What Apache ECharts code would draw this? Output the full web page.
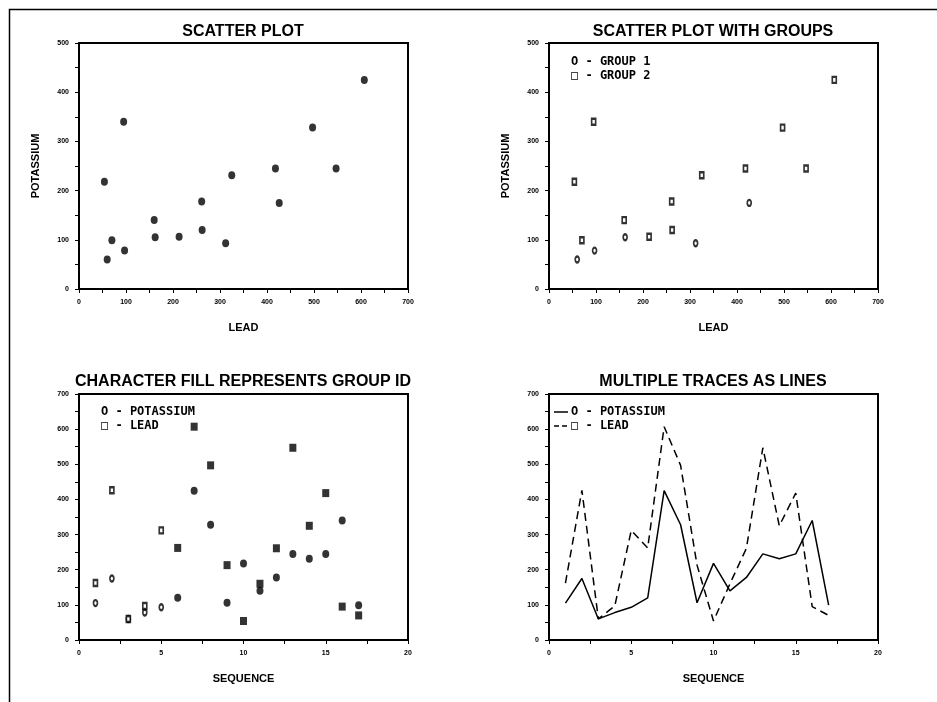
<!DOCTYPE html>
<html>
<head>
<meta charset="utf-8">
<script src="https://cdn.jsdelivr.net/npm/echarts@6/dist/echarts.min.js"></script>
<style>
  html, body { margin: 0; padding: 0; background: #fff; }
  #main { width: 937px; height: 702px; }
</style>
</head>
<body>
<div id="main"></div>
<script>
// data: 17 observations
const sequence  = [1, 2, 3, 4, 5, 6, 7, 8, 9, 10, 11, 12, 13, 14, 15, 16, 17];
const potassium = [105, 175, 60, 78, 93, 120, 425, 328, 106, 218, 140, 178, 245, 231, 245, 340, 99];
const lead      = [162, 426, 60, 97, 312, 262, 607, 497, 213, 54, 160, 261, 547, 325, 418, 95, 70];
const group     = [1, 1, 1, 1, 1, 2, 2, 2, 2, 2, 2, 2, 2, 2, 2, 2, 2];

// axis ranges
const leadAxis = { min: 0, max: 700, interval: 100 };
const kAxis    = { min: 0, max: 500, interval: 100 };
const seqAxis  = { min: 0, max: 20, interval: 5 };
const valAxis  = { min: 0, max: 700, interval: 100 };

const FONT = '"Liberation Sans", Arial, sans-serif';
const MONO = '"DejaVu Sans Mono", monospace';
const ELLIPSE = 'path://M5,0A5,5 0 1,1 5,10A5,5 0 1,1 5,0Z';

const chart = echarts.init(document.getElementById('main'));

function pairs(xs, ys, keep) {
  const out = [];
  xs.forEach((x, i) => { if (!keep || keep(i)) out.push([x, ys[i]]); });
  return out;
}

function axis(gi, range, name, gap) {
  return {
    type: 'value', gridIndex: gi,
    min: range.min, max: range.max, interval: range.interval,
    name: name, nameLocation: 'middle', nameGap: gap,
    nameTextStyle: { fontFamily: FONT, fontWeight: 'bold', fontSize: 11, color: '#000' },
    axisLine: { show: true, onZero: false, lineStyle: { color: '#000', width: 2 } },
    axisTick: { show: true, length: 4, lineStyle: { color: '#000', width: 1 } },
    minorTick: { show: true, splitNumber: 2, length: 4, lineStyle: { color: '#000', width: 1 } },
    axisLabel: { fontFamily: FONT, fontWeight: 'bold', fontSize: 7, color: '#000', margin: 10 },
    splitLine: { show: false }
  };
}

function grid(left, top) {
  return { left: left, top: top, width: 329, height: 246, show: true,
           borderColor: '#000', borderWidth: 2, backgroundColor: 'transparent' };
}

function title(text, x, y) {
  return { text: text, left: x, top: y, textAlign: 'center', padding: 0,
           textStyle: { fontFamily: FONT, fontWeight: 'bold', fontSize: 16, color: '#000' } };
}

function legendText(text, x, y) {
  return { type: 'text', left: x, top: y, silent: true,
           style: { text: text, fontFamily: MONO, fontWeight: 'bold', fontSize: 12, fill: '#000' } };
}

const filled = { color: '#000' };
const open = { color: '#fff', borderColor: '#000', borderWidth: 2 };
const g1 = i => group[i] === 1;
const g2 = i => group[i] === 2;

const option = {
  backgroundColor: '#fff',
  animation: false,
  title: [
    title('SCATTER PLOT', 243, 24),
    title('SCATTER PLOT WITH GROUPS', 713, 24),
    title('CHARACTER FILL REPRESENTS GROUP ID', 243, 374),
    title('MULTIPLE TRACES AS LINES', 713, 374)
  ],
  grid: [grid(79, 43), grid(549, 43), grid(79, 394), grid(549, 394)],
  xAxis: [
    axis(0, leadAxis, 'LEAD', 33),
    axis(1, leadAxis, 'LEAD', 33),
    axis(2, seqAxis, 'SEQUENCE', 33),
    axis(3, seqAxis, 'SEQUENCE', 33)
  ],
  yAxis: [
    axis(0, kAxis, 'POTASSIUM', 38),
    axis(1, kAxis, 'POTASSIUM', 38),
    axis(2, valAxis, '', 30),
    axis(3, valAxis, '', 30)
  ],
  series: [
    // panel 1
    { type: 'scatter', xAxisIndex: 0, yAxisIndex: 0, symbol: ELLIPSE, symbolSize: [7, 8],
      itemStyle: filled, data: pairs(lead, potassium) },
    // panel 2
    { type: 'scatter', xAxisIndex: 1, yAxisIndex: 1, symbol: ELLIPSE, symbolSize: [4, 6],
      itemStyle: open, data: pairs(lead, potassium, g1) },
    { type: 'scatter', xAxisIndex: 1, yAxisIndex: 1, symbol: 'rect', symbolSize: [4, 6],
      itemStyle: open, data: pairs(lead, potassium, g2) },
    // panel 3
    { type: 'scatter', xAxisIndex: 2, yAxisIndex: 2, symbol: ELLIPSE, symbolSize: [4, 6],
      itemStyle: open, data: pairs(sequence, potassium, g1) },
    { type: 'scatter', xAxisIndex: 2, yAxisIndex: 2, symbol: ELLIPSE, symbolSize: [7, 8],
      itemStyle: filled, data: pairs(sequence, potassium, g2) },
    { type: 'scatter', xAxisIndex: 2, yAxisIndex: 2, symbol: 'rect', symbolSize: [4, 6],
      itemStyle: open, data: pairs(sequence, lead, g1) },
    { type: 'scatter', xAxisIndex: 2, yAxisIndex: 2, symbol: 'rect', symbolSize: [7, 8],
      itemStyle: filled, data: pairs(sequence, lead, g2) },
    // panel 4
    { type: 'line', xAxisIndex: 3, yAxisIndex: 3, symbol: 'none',
      lineStyle: { color: '#000', width: 1.5 }, data: pairs(sequence, potassium) },
    { type: 'line', xAxisIndex: 3, yAxisIndex: 3, symbol: 'none',
      lineStyle: { color: '#000', width: 1.5, type: [8, 5] }, data: pairs(sequence, lead) }
  ],
  graphic: [
    { type: 'rect', silent: true, shape: { x: 9.5, y: 9.5, width: 1000, height: 1000 },
      style: { fill: 'none', stroke: '#000', lineWidth: 1.5 } },
    legendText('O - GROUP 1', 571, 56),
    legendText('\u25A1 - GROUP 2', 571, 70),
    legendText('O - POTASSIUM', 101, 406),
    legendText('\u25A1 - LEAD', 101, 420),
    { type: 'line', silent: true, shape: { x1: 554, y1: 412, x2: 568, y2: 412 },
      style: { stroke: '#000', lineWidth: 1.5 } },
    { type: 'line', silent: true, shape: { x1: 554, y1: 426, x2: 569, y2: 426 },
      style: { stroke: '#000', lineWidth: 1.5, lineDash: [5, 3] } },
    legendText('O - POTASSIUM', 571, 406),
    legendText('\u25A1 - LEAD', 571, 420)
  ]
};

chart.setOption(option);
window.addEventListener('resize', () => chart.resize());
</script>
</body>
</html>
